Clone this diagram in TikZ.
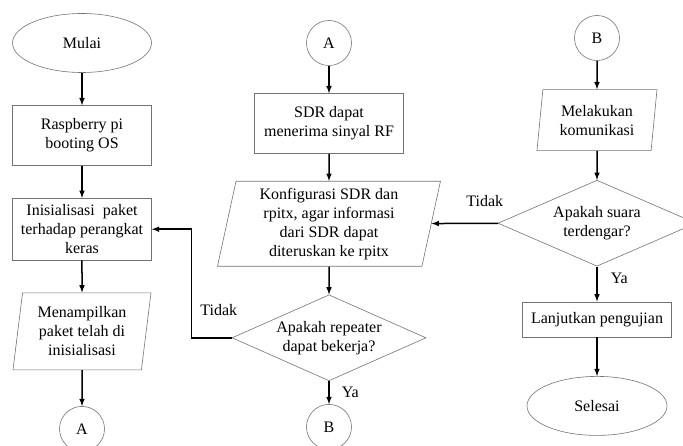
\documentclass[tikz,border=0pt]{standalone}
\usepackage{fontspec}
\setmainfont{Liberation Serif}
\usepackage{tikz}
\tikzset{
    term/.style={ellipse,draw=black!55,line width=0.6pt,minimum width=139pt,minimum height=59pt,inner sep=0pt,font=\fontsize{16}{19}\selectfont},
    proc/.style={rectangle,draw=black!55,line width=0.6pt,minimum width=139pt,inner sep=0pt,align=center,font=\fontsize{16}{19}\selectfont},
    io/.style={trapezium,trapezium left angle=79,trapezium right angle=101,trapezium stretches body,draw=black!55,line width=0.6pt,inner sep=0pt,align=center,font=\fontsize{16}{19}\selectfont},
    decision/.style={diamond,aspect=2.25,draw=black!55,line width=0.6pt,inner sep=0pt,align=center,font=\fontsize{16}{19}\selectfont},
    conn/.style={circle,draw=black!55,line width=0.6pt,minimum size=45pt,inner sep=0pt,font=\fontsize{16}{19}\selectfont},
    lbl/.style={inner sep=0pt,font=\fontsize{16}{19}\selectfont},
    every edge/.append style={line width=1.5pt},
}
\usetikzlibrary{shapes}
\usetikzlibrary{positioning}

\begin{document}
\begin{tikzpicture}[>=latex,x=1pt,y=1pt]
\useasboundingbox (0,0) rectangle (683,445);
% kolom kiri
\node[term] (mulai) at (82,402) {Mulai};
\node[proc,minimum height=60pt] (boot) [below=32.5pt of mulai] {Raspberry pi\\booting OS} edge [<-] (mulai);
\node[proc,minimum height=62pt] (init) [below=32pt of boot] {Inisialisasi~ paket\\terhadap perangkat\\keras} edge [<-] (boot);
\node[io,minimum width=138pt,minimum height=77pt] (tampil) [below=32pt of init] {Menampilkan\\paket telah di\\inisialisasi} edge [<-] (init);
\node[conn] (keA) [below=36pt of tampil] {A} edge [<-] (tampil);
% kolom tengah
\node[conn] (dariA) at (329,402) {A};
\node[proc,minimum width=149pt,minimum height=60pt] (sdr) [below=27.5pt of dariA] {SDR dapat\\menerima sinyal RF} edge [<-] (dariA);
\node[io,trapezium left angle=75.5,trapezium right angle=104.5,minimum width=223pt,minimum height=85pt] (konf) [below=27pt of sdr] {Konfigurasi SDR dan\\rpitx, agar informasi\\dari SDR dapat\\diteruskan ke rpitx} edge [<-] (sdr);
\node[decision,minimum width=194pt,minimum height=86pt] (repeater) [below=28pt of konf] {Apakah repeater\\dapat bekerja?} edge [<-] (konf);
\node[conn] (keB) [below=23pt of repeater] {B} edge [<-] node[lbl,right=12pt] {Ya} (repeater);
% kolom kanan
\node[conn] (dariB) at (597,407) {B};
\node[io,minimum width=120pt,minimum height=61pt] (komunikasi) [below=28.5pt of dariB] {Melakukan\\komunikasi} edge [<-] (dariB);
\node[decision,minimum width=198pt,minimum height=86pt] (suara) [below=29pt of komunikasi] {Apakah suara\\terdengar?} edge [<-] (komunikasi) edge [->] node[lbl,pos=0.2,above=16pt] {Tidak} (konf);
\node[proc,minimum width=149pt,minimum height=35pt] (lanjut) [below=35pt of suara] {Lanjutkan pengujian} edge [<-] node[lbl,pos=0.65,right=13pt] {Ya} (suara);
\node[term,minimum width=140pt] (selesai) [below=39pt of lanjut] {Selesai} edge [<-] (lanjut);
% balik ke inisialisasi
\draw[->,line width=1.5pt] (repeater.west) -- ++(-40,0) |- node[lbl,pos=0.13,right=8pt] {Tidak} (init.east);
\end{tikzpicture}
\end{document}
